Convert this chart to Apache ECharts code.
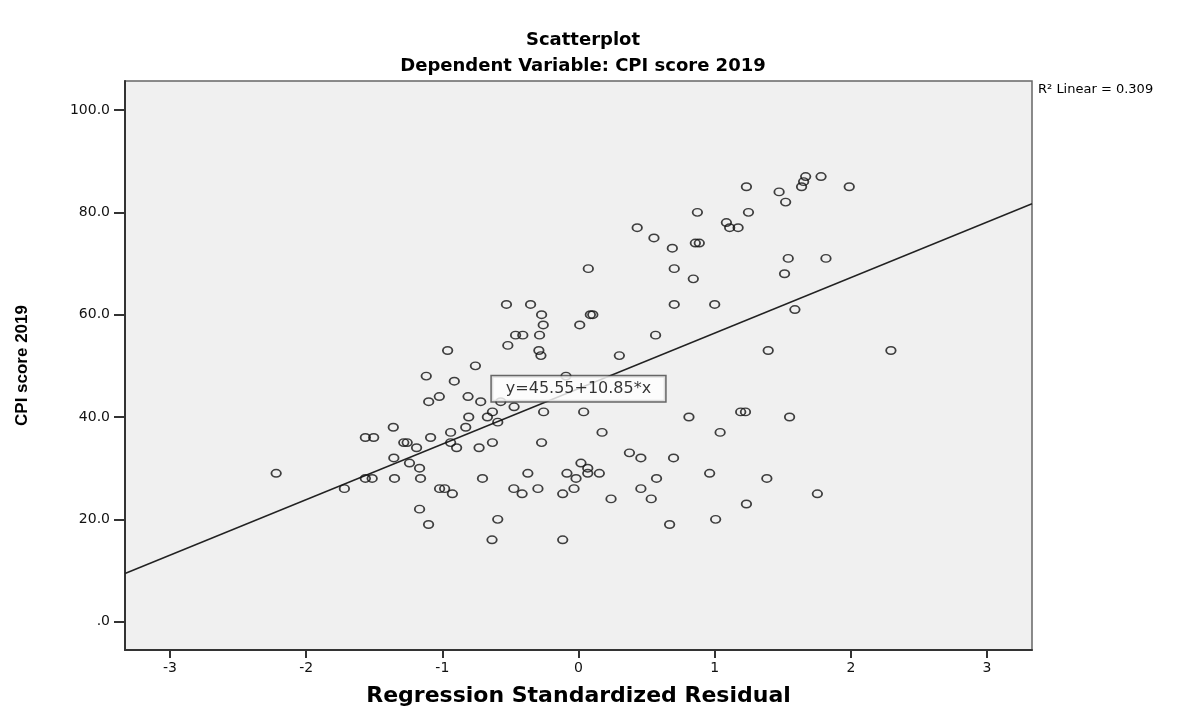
<!DOCTYPE html>
<html>
<head>
<meta charset="utf-8">
<script src="https://cdn.jsdelivr.net/npm/echarts@6/dist/echarts.min.js"></script>
<style>
html,body{margin:0;padding:0;background:#fff;}
#chart{width:1203px;height:712px;}
</style>
</head>
<body>
<div id="chart"></div>
<script>
// Regression standardized residual (x) for each country
const residuals = [
  1.233, 1.473, 1.521, 1.638, 1.653, 1.668, 1.781, 1.988, 0.873, 1.248,
  1.086, 1.110, 1.172, 0.431, 0.554, 0.689, 0.858, 0.887, 0.703, 0.072,
  0.843, 1.540, 1.817, 1.513, 1.589, 0.703, 1.000, -0.529, -0.352, -0.271,
  0.087, 0.105, -0.259, 0.009, -0.462, -0.409, -0.286, 0.566, -0.519, -0.291,
  -0.276, -0.961, 0.300, 1.393, 2.294, -0.757, -0.092, -1.118, -0.912, -1.100,
  -1.022, -0.811, -0.718, -0.571, -0.473, -0.632, -0.256, 0.038, 1.191, 1.226,
  0.811, 1.550, -0.806, -0.669, -0.593, -0.828, -1.360, 0.173, 1.040, -0.939,
  -1.565, -1.504, -1.086, -1.283, -1.258, -0.939, -0.632, -0.271, -1.189, -0.895,
  -0.730, 0.374, 0.458, 0.698, -1.356, 0.018, -1.241, 0.068, -1.167, -2.220,
  -0.372, -0.085, 0.068, 0.153, 0.963, -1.565, -1.515, -1.351, -1.160, -0.705,
  -0.018, 0.573, 1.383, -1.719, -1.020, -0.983, -0.475, -0.298, -0.033, 0.458,
  -0.926, -0.414, -0.116, 1.754, 0.239, 0.534, 1.233, -1.167, -0.593, 1.007,
  -1.101, 0.669, -0.635, -0.116
];
// CPI score 2019 (y)
const cpiScores = [
  85, 84, 82, 85, 86, 87, 87, 85, 80, 80,
  78, 77, 77, 77, 75, 73, 74, 74, 69, 69,
  67, 71, 71, 68, 61, 62, 62, 62, 62, 60,
  60, 60, 58, 58, 56, 56, 56, 56, 54, 53,
  52, 53, 52, 53, 53, 50, 48, 48, 47, 43,
  44, 44, 43, 43, 42, 41, 41, 41, 41, 41,
  40, 40, 40, 40, 39, 38, 38, 37, 37, 37,
  36, 36, 36, 35, 35, 35, 35, 35, 34, 34,
  34, 33, 32, 32, 32, 31, 31, 30, 30, 29,
  29, 29, 29, 29, 29, 28, 28, 28, 28, 28,
  28, 28, 28, 26, 26, 26, 26, 26, 26, 26,
  25, 25, 25, 25, 24, 24, 23, 22, 20, 20,
  19, 19, 16, 16
];
// Fit line
const fitIntercept = 45.55;
const fitSlope = 10.85;
const fitLabel = 'y=45.55+10.85*x';
const rSquaredText = 'R² Linear = 0.309';
// Axis ticks
const xTicks = [-3, -2, -1, 0, 1, 2, 3];
const yTicks = [0, 20, 40, 60, 80, 100];
const xRange = [-3.33, 3.33];
const yRange = [-5.53, 105.67];

const points = residuals.map((x, i) => [x, cpiScores[i]]);
const fitLine = xRange.map(x => [x, fitIntercept + fitSlope * x]);

const chart = echarts.init(document.getElementById('chart'), null, {renderer: 'canvas'});
const FONT = 'DejaVu Sans';
chart.setOption({
  animation: false,
  backgroundColor: '#ffffff',
  title: [
    {text: 'Scatterplot', left: 578, top: 26, textAlign: 'center',
     textStyle: {fontFamily: FONT, fontWeight: 'bold', fontSize: 18, color: '#000'}},
    {text: 'Dependent Variable: CPI score 2019', left: 578, top: 52, textAlign: 'center',
     textStyle: {fontFamily: FONT, fontWeight: 'bold', fontSize: 18, color: '#000'}},
    {text: rSquaredText, left: 1033, top: 78,
     textStyle: {fontFamily: FONT, fontWeight: 'normal', fontSize: 13, color: '#000'}}
  ],
  grid: {left: 125, top: 81, width: 907, height: 569, show: true,
         backgroundColor: '#f0f0f0', borderColor: '#666', borderWidth: 1.5},
  xAxis: {
    type: 'value', min: xRange[0], max: xRange[1],
    name: 'Regression Standardized Residual', nameLocation: 'middle', nameGap: 35,
    nameTextStyle: {fontFamily: FONT, fontWeight: 'bold', fontSize: 22, color: '#000'},
    axisLine: {show: true, onZero: false, lineStyle: {color: '#333', width: 2}},
    axisTick: {show: true, customValues: xTicks, length: 8, lineStyle: {color: '#333', width: 2}},
    axisLabel: {customValues: xTicks, margin: 11, fontFamily: FONT, fontSize: 14, color: '#111',
                formatter: v => String(v)},
    splitLine: {show: false}
  },
  yAxis: {
    type: 'value', min: yRange[0], max: yRange[1],
    name: 'CPI score 2019', nameLocation: 'middle', nameGap: 94, nameRotate: 90,
    nameTextStyle: {fontFamily: 'Liberation Sans', fontWeight: 'bold', fontSize: 17, color: '#000'},
    axisLine: {show: true, onZero: false, lineStyle: {color: '#333', width: 2}},
    axisTick: {show: true, customValues: yTicks, length: 11, lineStyle: {color: '#333', width: 2}},
    axisLabel: {customValues: yTicks, margin: 15, fontFamily: FONT, fontSize: 14, color: '#111',
                formatter: v => v === 0 ? '.0' : v.toFixed(1)},
    splitLine: {show: false}
  },
  series: [
    {
      type: 'line', data: fitLine, symbol: 'none', silent: true,
      lineStyle: {color: '#222', width: 1.4}, z: 2
    },
    {
      type: 'scatter', data: points, symbol: 'circle', symbolSize: [9.5, 7.5],
      itemStyle: {color: 'rgba(0,0,0,0)', borderColor: '#111', borderWidth: 1.6},
      z: 3
    },
    {
      type: 'scatter', data: [[0, fitIntercept]], symbolSize: 0, silent: true, z: 5,
      label: {show: true, position: 'inside', formatter: fitLabel,
              fontFamily: FONT, fontSize: 16, color: '#000',
              backgroundColor: '#fff', borderColor: '#444', borderWidth: 1.5,
              padding: [5, 14, 4, 14]}
    }
  ]
});
</script>
</body>
</html>
